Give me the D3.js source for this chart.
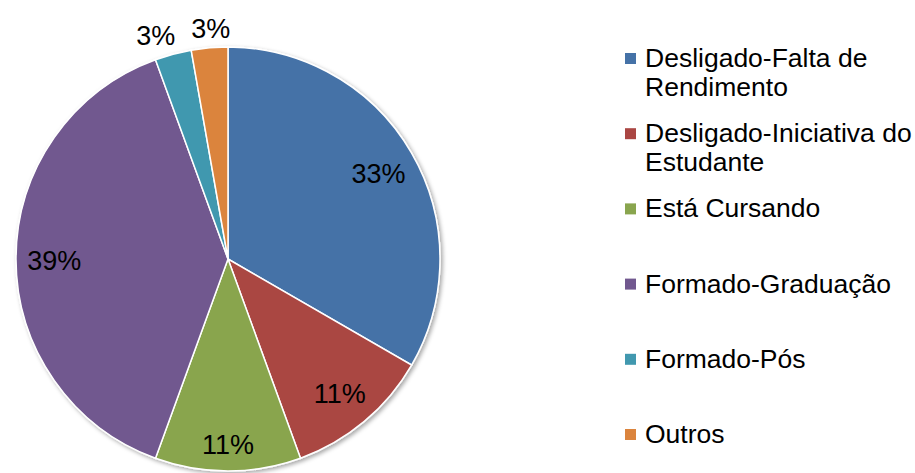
<!DOCTYPE html>
<html>
<head>
<meta charset="utf-8">
<script src="https://cdn.jsdelivr.net/npm/d3@7"></script>
<style>
  body { margin: 0; background: #fff; }
  svg { display: block; font-family: "Liberation Sans", Arial, sans-serif; }
</style>
</head>
<body>
<svg id="chart" width="915" height="473"></svg>
<script>
const categories = [
  "Desligado-Falta de Rendimento",
  "Desligado-Iniciativa do Estudante",
  "Está Cursando",
  "Formado-Graduação",
  "Formado-Pós",
  "Outros"
];
// legend text, wrapped as in the original
const legendLines = [
  ["Desligado-Falta de", "Rendimento"],
  ["Desligado-Iniciativa do", "Estudante"],
  ["Está Cursando"],
  ["Formado-Graduação"],
  ["Formado-Pós"],
  ["Outros"]
];
const counts = [12, 4, 4, 14, 1, 1];
const colors = ["#4572a7", "#aa4643", "#89a54e", "#71588f", "#4198af", "#db843d"];

const svg = d3.select("#chart");
const cx = 228, cy = 259, R = 212;

const defs = svg.append("defs");
const shadow = defs.append("filter").attr("id", "shadow")
  .attr("x", "-10%").attr("y", "-10%").attr("width", "120%").attr("height", "120%");
shadow.append("feDropShadow")
  .attr("dx", 2).attr("dy", 2).attr("stdDeviation", 2)
  .attr("flood-color", "#000").attr("flood-opacity", 0.35);

const data = categories.map((c, i) => ({ cat: c, value: counts[i], color: colors[i] }));
const total = d3.sum(counts);

const pie = d3.pie().sort(null).value(d => d.value);
const arcs = pie(data);
const arc = d3.arc().innerRadius(0).outerRadius(R);

const g = svg.append("g").attr("transform", `translate(${cx},${cy})`);

g.append("g")
  .attr("filter", "url(#shadow)")
  .selectAll("path")
  .data(arcs)
  .join("path")
  .attr("d", arc)
  .attr("fill", d => d.data.color)
  .attr("stroke", "#fff")
  .attr("stroke-width", 1.5);

const fmt = v => Math.round(v / total * 100) + "%";

g.selectAll("text.label")
  .data(arcs)
  .join("text")
  .attr("class", "label")
  .attr("text-anchor", "middle")
  .attr("dominant-baseline", "central")
  .attr("font-size", 27)
  .attr("fill", "#000")
  .attr("transform", (d, i) => {
    const a = (d.startAngle + d.endAngle) / 2;
    const small = d.value / total < 0.05;
    const r = small ? R + 21 : (i === 2 ? R * 0.87 : R * 0.82);
    let x = r * Math.sin(a), y = -r * Math.cos(a);
    // push the two small outside labels apart
    if (small) x += (a > 6.1 ? 3 : -12);
    return `translate(${x},${y + 2})`;
  })
  .text(d => fmt(d.value));

// legend
const lx = 625, ly0 = 67, step = 75.2, lineH = 28.5;
const legend = svg.append("g")
  .selectAll("g")
  .data(data)
  .join("g")
  .attr("transform", (d, i) => `translate(${lx},${ly0 + i * step})`);

legend.append("rect")
  .attr("x", 0).attr("y", -14)
  .attr("width", 11).attr("height", 11)
  .attr("fill", d => d.color);

legend.append("text")
  .attr("x", 20)
  .attr("font-size", 26.5)
  .attr("fill", "#000")
  .selectAll("tspan")
  .data((d, i) => legendLines[i])
  .join("tspan")
  .attr("x", 20)
  .attr("dy", (d, j) => j === 0 ? 0 : lineH)
  .text(d => d);
</script>
</body>
</html>
